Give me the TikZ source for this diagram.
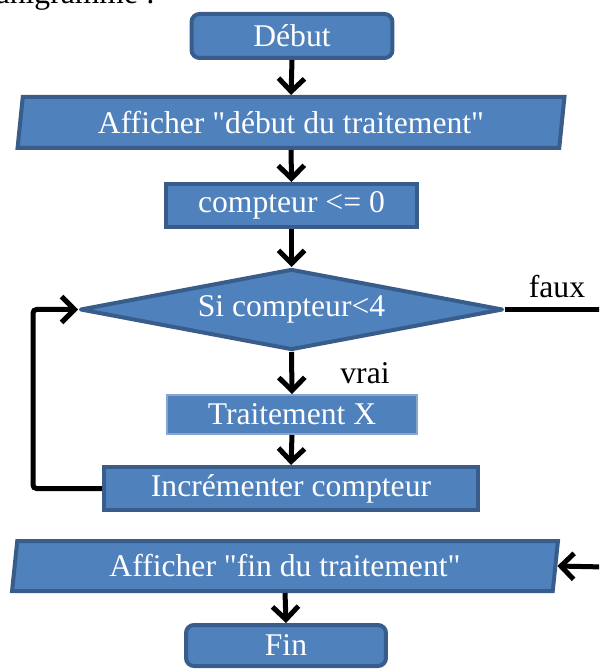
\documentclass[tikz,border=0pt]{standalone}
\usepackage{fontspec}
\setmainfont{Liberation Serif}
\usetikzlibrary{shapes.geometric, arrows.meta}
\definecolor{boxfill}{HTML}{4F81BD}
\definecolor{boxline}{HTML}{385D8A}
\definecolor{boxthin}{HTML}{8AA6CF}
\tikzset{
	box/.style={draw=boxline, fill=boxfill, line width=0.08cm, text=white, font=\fontsize{18}{22}\selectfont, inner sep=0pt},
	startstop/.style={box, rectangle, rounded corners=0.16cm},
	io/.style={box, trapezium, trapezium left angle=77, trapezium right angle=103, trapezium stretches body},
	process/.style={box, rectangle},
	decision/.style={box, diamond, aspect=5, line join=round},
	flow/.style={line width=0.1cm, -{Straight Barb[length=0.26cm, width=0.52cm, line width=0.1cm]}},
	lbl/.style={font=\fontsize{18}{22}\selectfont}
}

\begin{document}
\begin{tikzpicture}[x=0.02cm, y=-0.02cm]
	\useasboundingbox (0,0) rectangle (599,671);
	\clip (0,0) rectangle (599,671);
	\node[lbl, anchor=base east] (titre) at (161,4) {Organigramme :};
	\node[startstop, minimum width=4.02cm, minimum height=0.88cm] (debut) at (292,36) {Début};
	\node[io, minimum width=10.94cm, minimum height=1.02cm] (aff1) at (291,122.5) {Afficher \textquotedbl début du traitement\textquotedbl};
	\node[process, minimum width=5.02cm, minimum height=0.86cm] (init) at (291.5,205.5) {compteur <= 0};
	\node[decision, minimum width=8.46cm, minimum height=1.62cm] (test) at (291.5,309.5) {Si compteur<4};
	\node[process, draw=boxthin, line width=0.03cm, minimum width=5.01cm, minimum height=0.79cm] (traitx) at (292,414.5) {Traitement X};
	\node[process, minimum width=7.48cm, minimum height=0.86cm] (incr) at (291,488.5) {Incrémenter compteur};
	\node[io, minimum width=10.92cm, minimum height=1cm] (aff2) at (285,566) {Afficher \textquotedbl fin du traitement\textquotedbl};
	\node[startstop, minimum width=4cm, minimum height=0.82cm] (fin) at (286,645.5) {Fin};
	\node[lbl] (vrai) at (365,373) {vrai};
	\node[lbl] (faux) at (557,287) {faux};
	\coordinate (boucle) at (33,309.5);
	\coordinate (sortie) at (605,309.5);
	\coordinate (retour) at (605,567);
	\draw[flow] (debut.south) -- (aff1.north);
	\draw[flow] (aff1.south) -- (init.north);
	\draw[flow] (init.south) -- (test.north);
	\draw[flow] (test.south) -- (traitx.north);
	\draw[flow] (traitx.south) -- (incr.north);
	\draw[flow] (aff2.south) -- (fin.north);
	\draw[flow, rounded corners=2pt] (incr.west) -| (boucle) -- (test.west);
	\draw[line width=0.1cm] (test.east) -- (sortie);
	\draw[flow] (retour) -- (aff2.east);
\end{tikzpicture}
\end{document}
